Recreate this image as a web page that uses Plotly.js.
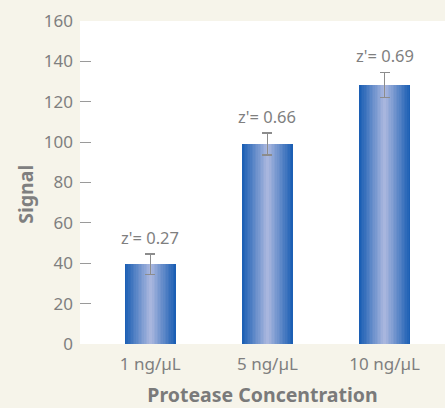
<!DOCTYPE html>
<html>
<head>
<meta charset="utf-8">
<script src="https://cdn.plot.ly/plotly-3.0.1.min.js"></script>
<style>
html,body{margin:0;padding:0;background:#f6f4ea;}
#chart{width:445px;height:408px;}
</style>
</head>
<body>
<div id="chart"></div>
<script>
// Data
const categories = ["1 ng/µL", "5 ng/µL", "10 ng/µL"];
const signal = [39.5, 99, 128.3];
const signalErr = [5, 5.4, 6.3];
const zPrime = ["0.27", "0.66", "0.69"];
const yTicks = [0, 20, 40, 60, 80, 100, 120, 140, 160];
const yMarkTicks = [20, 40, 60, 80, 100, 120, 140];

// Styling for the stepped horizontal gradient on bars
const edgeRGB = [28, 95, 180];
const centerRGB = [168, 182, 222];
const N = 16;
const fullWidth = 0.436;

function mix(a, b, t) {
  return 'rgb(' + a.map((v, k) => Math.round(v + (b[k] - v) * t)).join(',') + ')';
}

const traces = [];
for (let i = 0; i < N; i++) {
  const t = i / (N - 1);
  const w = fullWidth * (1 - i / N);
  const tr = {
    type: 'bar',
    x: categories,
    y: signal,
    width: w,
    marker: {color: mix(edgeRGB, centerRGB, t), line: {width: 0}},
    hoverinfo: 'skip',
    showlegend: false
  };
  if (i === N - 1) {
    tr.error_y = {type: 'data', array: signalErr, visible: true, color: '#8c8c8c', thickness: 1.5, width: 5};
  }
  traces.push(tr);
}
// invisible trace for tick marks on overlay axis
traces.push({
  type: 'scatter', x: categories, y: signal, yaxis: 'y2',
  mode: 'markers', marker: {opacity: 0}, hoverinfo: 'skip', showlegend: false
});

const annotations = categories.map((c, i) => ({
  x: c, y: signal[i] + signalErr[i], xref: 'x', yref: 'y',
  text: "z'= " + zPrime[i], showarrow: false,
  yanchor: 'middle', yshift: 17,
  font: {family: 'Noto Sans, sans-serif', size: 16.5, color: '#7f7f7f'}
}));
annotations.push({
  xref: 'paper', yref: 'paper', x: -0.148, y: 0.465, xanchor: 'center', yanchor: 'middle',
  text: '<b>Signal</b>', textangle: -90, showarrow: false,
  font: {family: 'Noto Sans, sans-serif', size: 19.5, color: '#7f7f7f'}
});

const layout = {
  width: 445, height: 408,
  margin: {l: 80, r: 0, t: 21, b: 64, pad: 0},
  paper_bgcolor: '#f6f4ea',
  plot_bgcolor: '#ffffff',
  barmode: 'overlay',
  bargap: 0,
  font: {family: 'Noto Sans, sans-serif', color: '#7f7f7f'},
  xaxis: {
    type: 'category',
    range: [-0.6, 2.515],
    showgrid: false, zeroline: false, showline: false, ticks: '',
    ticklabelstandoff: 8,
    tickfont: {size: 17, color: '#7f7f7f'},
    title: {text: '<b>Protease Concentration</b>', font: {size: 19.5, color: '#7a7a7a'}, standoff: 17}
  },
  yaxis: {
    range: [0, 160],
    tickvals: yTicks,
    showgrid: false, zeroline: false, showline: false, ticks: '',
    ticklabelstandoff: 6,
    tickfont: {size: 17, color: '#7f7f7f'}
  },
  yaxis2: {
    overlaying: 'y', side: 'left',
    range: [0, 160],
    tickvals: yMarkTicks,
    showticklabels: false,
    showgrid: false, zeroline: false, showline: false,
    ticks: 'inside', ticklen: 11, tickwidth: 1, tickcolor: '#9a9a9a'
  },
  annotations: annotations
};

Plotly.newPlot('chart', traces, layout, {displayModeBar: false, staticPlot: true});
</script>
</body>
</html>
